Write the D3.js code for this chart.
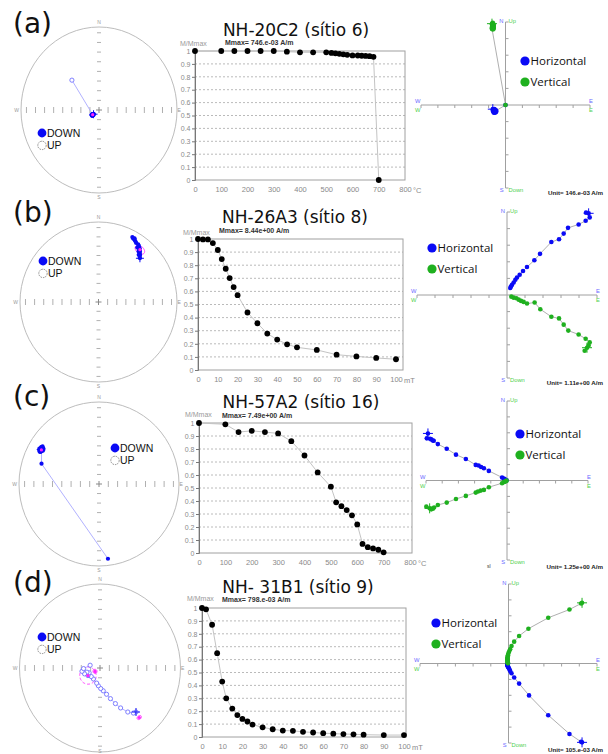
<!DOCTYPE html>
<html>
<head>
<meta charset="utf-8">
<script src="https://cdn.jsdelivr.net/npm/d3@7"></script>
<style>
body{margin:0;background:#fff}
svg{display:block}
</style>
</head>
<body>
<svg width="608" height="754"></svg>
<script>
// ---- text ----
const rowLabels = ['(a)', '(b)', '(c)', '(d)'];
const titles = ['NH-20C2 (sítio 6)', 'NH-26A3 (sítio 8)', 'NH-57A2 (sítio 16)', 'NH- 31B1 (sítio 9)'];
const mmaxTexts = ['Mmax= 746.e-03 A/m', 'Mmax= 8.44e+00 A/m', 'Mmax= 7.49e+00 A/m', 'Mmax= 798.e-03 A/m'];
const unitTexts = ['Unit= 146.e-03 A/m', 'Unit= 1.11e+00 A/m', 'Unit= 1.25e+00 A/m', 'Unit= 105.e-03 A/m'];

// ---- ticks ----
const tempTicks = [0, 100, 200, 300, 400, 500, 600, 700, 800];
const afTicks = [0, 10, 20, 30, 40, 50, 60, 70, 80, 90, 100];
const yTicks = [0, 0.1, 0.2, 0.3, 0.4, 0.5, 0.6, 0.7, 0.8, 0.9, 1];
const zijTicks = [-1, -0.8, -0.6, -0.4, -0.2, 0.2, 0.4, 0.6, 0.8, 1];

// ---- demagnetization curves (M/Mmax) ----
const stepsA = [0, 100, 150, 200, 250, 300, 350, 400, 450, 500, 520, 535, 550, 565, 580, 600, 620, 635, 650, 665, 680, 700];
const magA = [1, 1, 1, 1, 1, 1, 0.995, 0.99, 0.99, 0.99, 0.985, 0.982, 0.978, 0.974, 0.97, 0.966, 0.965, 0.963, 0.962, 0.96, 0.955, 0];
const stepsB = [0, 2.5, 5, 7.5, 10, 12, 14, 16, 18, 20, 25, 30, 35, 40, 45, 50, 60, 70, 80, 90, 100];
const magB = [1, 0.997, 0.997, 0.969, 0.916, 0.847, 0.773, 0.702, 0.633, 0.571, 0.439, 0.357, 0.278, 0.232, 0.196, 0.173, 0.153, 0.117, 0.104, 0.092, 0.082];
const stepsC = [0, 100, 150, 200, 250, 300, 350, 400, 450, 500, 520, 540, 560, 580, 600, 620, 640, 660, 680, 700];
const magC = [1, 0.99, 0.93, 0.94, 0.93, 0.92, 0.86, 0.75, 0.62, 0.51, 0.39, 0.36, 0.33, 0.29, 0.22, 0.07, 0.045, 0.035, 0.025, 0.005];
const stepsD = [0, 2, 5, 7.5, 10, 12, 15, 17.5, 20, 22.5, 25, 30, 35, 40, 45, 50, 55, 60, 65, 70, 75, 80, 90, 100];
const magD = [1, 0.99, 0.87, 0.65, 0.43, 0.30, 0.22, 0.17, 0.14, 0.12, 0.096, 0.075, 0.06, 0.05, 0.048, 0.04, 0.035, 0.03, 0.026, 0.023, 0.021, 0.018, 0.015, 0.015];

// ---- stereonet directions [dec, inc] (inc < 0 = UP) ----
const dirsA = [[234, 83], [236, 82], [232, 81], [238, 82], [230, 82.5], [235, 81], [240, 82], [233, 83], [237, 81.5], [231, 81], [236, 83], [234, 82], [239, 81], [232, 82], [235, 83], [238, 81], [233, 82], [236, 81.5], [234, 82.5], [237, 82], [235, 82], [316, -48.6]];
const dirsB = [[44, 25], [43, 24], [41, 23], [42, 22], [41, 21], [39, 20], [40, 19], [39, 18], [38, 17], [36, 17], [38, 16], [37, 15], [36, 14], [35, 13], [33, 13], [32, 12], [31, 11], [30, 10], [29, 10], [28, 9], [30, 9]];
const dirsC = [[300, 17], [301, 16], [299, 18], [302, 17], [300, 19], [298, 18], [301, 20], [303, 17], [300, 15], [302, 19], [299, 16], [301, 18], [300, 20], [298, 17], [302, 16], [301, 19], [300, 17], [299, 19], [289, 25], [173, 9]];
const dirsD = [[139.5, -31.7], [142.3, -32.7], [146.6, -37.3], [151.7, -45.1], [155.7, -51.6], [160.4, -58.2], [165.4, -63.6], [171.6, -67.6], [178, -70.1], [185.6, -72.7], [193, -75], [212, -77.5], [227, -77.9], [239, -75.8], [247, -78.1], [253, -76.2], [250, -73.4], [260, -71.5], [268, -73.4], [285, -79.7]];
// mean directions [dec, inc, a95]
const meansA = [[235, 82, 2]];
const meansB = [[38.9, 17.1, 4.5]];
const meansC = [[300, 18, 1.5]];
const meansD = [[239, -75.8, 8.3], [140.4, -24.5, 2], [237, -84, 2]];

// ---- Zijderveld: horizontal [E, N], vertical [E, Up] ----
const horA = [[-0.15, -0.05], [-0.14, -0.06], [-0.15, -0.07], [-0.13, -0.06], [-0.14, -0.08], [-0.13, -0.07], [-0.12, -0.08], [-0.13, -0.09], [-0.14, -0.07], [-0.12, -0.07], [-0.13, -0.08], [-0.12, -0.09], [-0.11, -0.08], [-0.12, -0.06], [-0.13, -0.05], [-0.12, -0.07], [-0.11, -0.07], [-0.12, -0.08], [-0.13, -0.09], [-0.14, -0.09], [-0.13, -0.08], [0, 0]];
const verA = [[-0.16, 0.98], [-0.15, 0.99], [-0.16, 0.97], [-0.15, 0.96], [-0.14, 0.97], [-0.15, 0.95], [-0.14, 0.94], [-0.15, 0.93], [-0.16, 0.94], [-0.15, 0.95], [-0.14, 0.96], [-0.15, 0.94], [-0.16, 0.93], [-0.15, 0.92], [-0.14, 0.93], [-0.15, 0.94], [-0.16, 0.92], [-0.15, 0.93], [-0.14, 0.92], [-0.15, 0.91], [-0.16, 0.92], [0, 0]];
const horB = [[0.907, 0.984], [0.878, 0.992], [0.919, 0.935], [0.874, 0.894], [0.796, 0.85], [0.678, 0.809], [0.63, 0.74], [0.578, 0.671], [0.493, 0.638], [0.367, 0.496], [0.304, 0.419], [0.222, 0.337], [0.178, 0.289], [0.141, 0.244], [0.111, 0.211], [0.093, 0.183], [0.074, 0.15], [0.056, 0.122], [0.044, 0.102], [0.036, 0.085]];
const verB = [[0.889, -0.635], [0.863, -0.671], [0.907, -0.607], [0.919, -0.571], [0.874, -0.528], [0.796, -0.476], [0.681, -0.429], [0.63, -0.357], [0.578, -0.282], [0.493, -0.262], [0.37, -0.171], [0.307, -0.091], [0.222, -0.103], [0.185, -0.083], [0.156, -0.071], [0.13, -0.056], [0.104, -0.04], [0.074, -0.032], [0.048, -0.02]];
const horC = [[-0.976, 0.592], [-0.99, 0.53], [-0.935, 0.517], [-0.95, 0.525], [-0.915, 0.504], [-0.905, 0.5], [-0.854, 0.458], [-0.744, 0.4], [-0.63, 0.325], [-0.508, 0.271], [-0.386, 0.196], [-0.35, 0.188], [-0.32, 0.17], [-0.285, 0.154], [-0.224, 0.121], [-0.061, 0.038], [-0.041, 0.025], [-0.03, 0.018], [-0.02, 0.008], [-0.005, 0.002]];
const verC = [[-0.955, -0.35], [-0.996, -0.329], [-0.935, -0.363], [-0.94, -0.355], [-0.915, -0.354], [-0.9, -0.34], [-0.854, -0.308], [-0.744, -0.278], [-0.63, -0.232], [-0.508, -0.194], [-0.386, -0.152], [-0.358, -0.139], [-0.325, -0.127], [-0.285, -0.118], [-0.224, -0.084], [-0.061, -0.034], [-0.04, -0.02], [-0.028, -0.017], [-0.015, -0.008], [-0.005, -0.002]];
const horD = [[0.831, -0.992], [0.82, -0.985], [0.689, -0.886], [0.449, -0.65], [0.232, -0.401], [0.12, -0.253], [0.064, -0.177], [0.034, -0.122], [0.019, -0.095], [0.011, -0.075], [0.004, -0.06], [-0.002, -0.048], [-0.006, -0.04], [-0.009, -0.032], [-0.011, -0.026], [-0.012, -0.021], [-0.012, -0.017], [-0.011, -0.013], [-0.011, -0.01], [-0.01, -0.008], [-0.009, -0.006], [-0.008, -0.004], [-0.007, -0.003], [-0.007, -0.002]];
const verD = [[0.831, 0.763], [0.82, 0.755], [0.689, 0.679], [0.449, 0.575], [0.225, 0.438], [0.12, 0.346], [0.064, 0.275], [0.034, 0.221], [0.019, 0.179], [0.007, 0.15], [-0.002, 0.125], [-0.006, 0.105], [-0.009, 0.09], [-0.011, 0.075], [-0.012, 0.065], [-0.012, 0.055], [-0.012, 0.045], [-0.011, 0.038], [-0.011, 0.03], [-0.01, 0.024], [-0.009, 0.018], [-0.008, 0.012], [-0.007, 0.007], [-0.007, 0.004]];

const rows = [
  {steps: stepsA, mag: magA, xTicks: tempTicks, xUnit: '°C', dirs: dirsA, means: meansA, hor: horA, ver: verA},
  {steps: stepsB, mag: magB, xTicks: afTicks, xUnit: 'mT', dirs: dirsB, means: meansB, hor: horB, ver: verB},
  {steps: stepsC, mag: magC, xTicks: tempTicks, xUnit: '°C', dirs: dirsC, means: meansC, hor: horC, ver: verC},
  {steps: stepsD, mag: magD, xTicks: afTicks, xUnit: 'mT', dirs: dirsD, means: meansD, hor: horD, ver: verD}
];

// where each panel sits on the page
const layout = [
  {ly: 33, st: {cx: 99, cy: 110, rx: 78, ry: 83, leg: [42, 133]},
   dm: {tx: 296, ty: 36, x: [195, 405], xr: 405, y: [180, 51], mx: 225, my: 45, lx: 180, lly: 46},
   zj: {hx: [421, 590], vy: [22, 188], leg: [525, 61], uy: 195}},
  {ly: 222, st: {cx: 98.5, cy: 302, rx: 78.5, ry: 80, leg: [43, 261]},
   dm: {tx: 295, ty: 223, x: [198, 396], xr: 403, y: [370, 239], mx: 219, my: 233, lx: 183, lly: 235},
   zj: {hx: [417, 597], vy: [212, 378], leg: [432, 248], uy: 385}},
  {ly: 406, st: {cx: 99, cy: 484, rx: 80, ry: 82, leg: [115, 448]},
   dm: {tx: 301, ty: 408, x: [199, 410], xr: 412, y: [553, 423], mx: 222, my: 418, lx: 185, lly: 417},
   zj: {hx: [426, 588], vy: [401, 560], leg: [520, 434], uy: 569}},
  {ly: 592, st: {cx: 100, cy: 668, rx: 80.5, ry: 84, leg: [42, 637]},
   dm: {tx: 298, ty: 593, x: [202, 404], xr: 406, y: [737, 608], mx: 222, my: 602, lx: 187, lly: 601},
   zj: {hx: [420, 597], vy: [584, 743], leg: [436, 623], uy: 752}}
];

const BLUE = '#0a0af5';
const GREEN = '#1fb01f';
const MAG = '#ff22ff';
const AX = '#a0a0a0';
const SANS = 'Liberation Sans, Arial, sans-serif';

const svg = d3.select('svg');

function cross(g, x, y, s, color) {
  g.append('path').attr('d', `M${x - s},${y}H${x + s}M${x},${y - s}V${y + s}`)
    .attr('stroke', color).attr('stroke-width', 1);
}

function drawStereo(g, s, dirs, means) {
  const proj = d3.geoAzimuthalEqualArea().rotate([0, -90]).scale(s.rx / Math.SQRT2).translate([0, 0]);
  const k = s.ry / s.rx;
  const P = c => { const p = proj(c); return [s.cx + p[0], s.cy + p[1] * k]; };
  const toLL = d => [180 - d[0], Math.abs(d[1])];

  g.append('ellipse').attr('cx', s.cx).attr('cy', s.cy).attr('rx', s.rx).attr('ry', s.ry)
    .attr('fill', 'none').attr('stroke', '#bdbdbd').attr('stroke-width', 1);

  const f = d3.range(1, 9).map(i => i / 8.6);
  f.forEach(t => {
    [-1, 1].forEach(sg => {
      const x = s.cx + sg * t * s.rx, y = s.cy + sg * t * s.ry;
      g.append('line').attr('x1', x).attr('x2', x).attr('y1', s.cy - 3).attr('y2', s.cy + 3).attr('stroke', '#b0b0b0');
      g.append('line').attr('x1', s.cx - 2).attr('x2', s.cx + 2).attr('y1', y).attr('y2', y).attr('stroke', '#b0b0b0');
    });
  });
  cross(g, s.cx, s.cy, 3, '#888');

  const lab = (t, x, y, a) => g.append('text').text(t).attr('x', x).attr('y', y).attr('text-anchor', a)
    .attr('font-family', SANS).attr('font-size', 5).attr('fill', '#999');
  lab('N', s.cx, s.cy - s.ry - 3, 'middle');
  lab('S', s.cx, Math.min(s.cy + s.ry + 6, 753), 'middle');
  lab('W', s.cx - s.rx - 2, s.cy + 2, 'end');
  lab('E', s.cx + s.rx + 0.5, s.cy + 2, 'start');

  const pts = dirs.map(d => P(toLL(d)));
  g.append('path').attr('d', d3.line()(pts)).attr('fill', 'none').attr('stroke', '#a8a8ff').attr('stroke-width', 0.9);

  means.forEach(m => {
    const ring = d3.geoCircle().center(toLL(m)).radius(m[2])().coordinates[0];
    g.append('path').attr('d', d3.line()(ring.map(P)) + 'Z').attr('fill', 'none')
      .attr('stroke', MAG).attr('stroke-width', 0.9).attr('stroke-dasharray', m[2] > 5 ? '3,2' : null);
  });

  dirs.forEach((d, i) => {
    const p = pts[i];
    if (d[1] >= 0) {
      g.append('circle').attr('cx', p[0]).attr('cy', p[1]).attr('r', 2.1).attr('fill', BLUE);
    } else {
      g.append('circle').attr('cx', p[0]).attr('cy', p[1]).attr('r', 2.1).attr('fill', 'white')
        .attr('stroke', '#7070ff').attr('stroke-width', 0.9);
    }
  });
  cross(g, pts[0][0], pts[0][1], 4, BLUE);
  means.forEach(m => {
    const p = P(toLL(m));
    g.append('circle').attr('cx', p[0]).attr('cy', p[1]).attr('r', 1.6).attr('fill', MAG);
  });

  // legend
  const [lx, ly] = s.leg;
  g.append('circle').attr('cx', lx).attr('cy', ly).attr('r', 4.4).attr('fill', BLUE);
  g.append('circle').attr('cx', lx).attr('cy', ly + 12.4).attr('r', 4.2).attr('fill', 'white')
    .attr('stroke', '#888').attr('stroke-dasharray', '1.5,1');
  g.append('text').text('DOWN').attr('x', lx + 5).attr('y', ly + 4).attr('font-family', SANS)
    .attr('font-size', 10.5).attr('fill', '#111');
  g.append('text').text('UP').attr('x', lx + 5).attr('y', ly + 16.4).attr('font-family', SANS)
    .attr('font-size', 10.5).attr('fill', '#111');
}

function drawDemag(g, L, r, i) {
  const xMax = r.xTicks[r.xTicks.length - 1];
  const x = d3.scaleLinear().domain([0, xMax]).range(L.x);
  const y = d3.scaleLinear().domain([0, 1]).range(L.y);

  g.append('text').text(titles[i]).attr('x', L.tx).attr('y', L.ty).attr('text-anchor', 'middle')
    .attr('font-family', 'DejaVu Sans, sans-serif').attr('font-size', 17).attr('fill', '#111');

  g.selectAll('line.grid').data(yTicks.slice(1, -1)).join('line').attr('class', 'grid')
    .attr('x1', L.x[0]).attr('x2', L.xr).attr('y1', d => y(d)).attr('y2', d => y(d))
    .attr('stroke', '#a8a8a8').attr('stroke-width', 0.8).attr('stroke-dasharray', '2,2');
  g.append('rect').attr('x', L.x[0]).attr('y', y(1)).attr('width', L.xr - L.x[0]).attr('height', y(0) - y(1))
    .attr('fill', 'none').attr('stroke', '#a0a0a0');

  const ya = g.append('g').attr('transform', `translate(${L.x[0]},0)`)
    .call(d3.axisLeft(y).tickValues(yTicks).tickSize(3).tickPadding(1.5)
      .tickFormat(d => (d === 0 || d === 1) ? String(d) : d.toFixed(1)));
  ya.select('.domain').attr('stroke', '#777');
  ya.selectAll('.tick line').attr('stroke', '#777');
  ya.selectAll('text').attr('fill', '#8a8a8a').attr('font-size', 7).attr('font-family', SANS);

  const xa = g.append('g').attr('transform', `translate(0,${L.y[0]})`)
    .call(d3.axisBottom(x).tickValues(r.xTicks).tickSize(0).tickPadding(7));
  xa.select('.domain').remove();
  xa.selectAll('text').attr('fill', '#8a8a8a').attr('font-size', 7.5).attr('font-family', SANS);
  g.append('text').text(r.xUnit).attr('x', x(xMax) + 8).attr('y', L.y[0] + 12.5)
    .attr('font-family', SANS).attr('font-size', 7.5).attr('fill', '#8a8a8a');

  g.append('text').text('M/Mmax').attr('x', L.lx).attr('y', L.lly)
    .attr('font-family', SANS).attr('font-size', 7).attr('fill', '#9a9a9a');
  g.append('text').text(mmaxTexts[i]).attr('x', L.mx).attr('y', L.my)
    .attr('font-family', SANS).attr('font-size', 7).attr('font-weight', 'bold').attr('fill', '#333');

  const pts = r.steps.map((s, j) => [x(s), y(r.mag[j])]);
  g.append('path').attr('d', d3.line()(pts)).attr('fill', 'none').attr('stroke', '#c4c4c4').attr('stroke-width', 1);
  g.selectAll('circle.dm').data(pts).join('circle').attr('class', 'dm')
    .attr('cx', d => d[0]).attr('cy', d => d[1]).attr('r', 2.9).attr('fill', '#000');
}

function drawZij(g, L, r, i) {
  const x = d3.scaleLinear().domain([-1, 1]).range(L.hx);
  const y = d3.scaleLinear().domain([-1, 1]).range([L.vy[1], L.vy[0]]);
  const ox = x(0), oy = y(0);

  g.append('line').attr('x1', L.hx[0]).attr('x2', L.hx[1]).attr('y1', oy).attr('y2', oy).attr('stroke', AX);
  g.append('line').attr('x1', ox).attr('x2', ox).attr('y1', L.vy[0]).attr('y2', L.vy[1]).attr('stroke', AX);
  zijTicks.forEach(t => {
    g.append('line').attr('x1', x(t)).attr('x2', x(t)).attr('y1', oy).attr('y2', oy + 3).attr('stroke', AX);
    g.append('line').attr('x1', ox).attr('x2', ox + 3).attr('y1', y(t)).attr('y2', y(t)).attr('stroke', AX);
  });

  const lab = (t, px, py, a, c) => g.append('text').text(t).attr('x', px).attr('y', py).attr('text-anchor', a)
    .attr('font-family', SANS).attr('font-size', 5.8).attr('fill', c);
  const LB = '#6a6aff', LG = '#4fd14f';
  lab('N', ox - 2, L.vy[0] + 0.5, 'end', LB);
  lab('Up', ox + 3, L.vy[0] + 0.5, 'start', LG);
  lab('S', ox - 2, L.vy[1] + 4, 'end', LB);
  lab('Down', ox + 3, L.vy[1] + 4, 'start', LG);
  lab('W', L.hx[0] - 0.5, oy - 2, 'end', LB);
  lab('W', L.hx[0] - 0.5, oy + 7, 'end', LG);
  lab('E', L.hx[1] - 1, oy - 2, 'start', LB);
  lab('E', L.hx[1] - 1, oy + 7, 'start', LG);

  const hp = r.hor.map(d => [x(d[0]), y(d[1])]);
  const vp = r.ver.map(d => [x(d[0]), y(d[1])]);
  [hp, vp].forEach(pp => g.append('path').attr('d', d3.line()(pp)).attr('fill', 'none')
    .attr('stroke', '#a6a6a6').attr('stroke-width', 0.9));
  [[hp, BLUE], [vp, GREEN]].forEach(([pp, c]) => {
    pp.forEach(p => g.append('circle').attr('cx', p[0]).attr('cy', p[1]).attr('r', 2.3).attr('fill', c));
    cross(g, pp[0][0], pp[0][1], 5, c);
  });

  const [gx, gy] = L.leg;
  [['Horizontal', BLUE, 0], ['Vertical', GREEN, 21]].forEach(([t, c, dy]) => {
    g.append('circle').attr('cx', gx).attr('cy', gy + dy).attr('r', 4.6).attr('fill', c);
    g.append('text').text(t).attr('x', gx + 5.5).attr('y', gy + dy + 4.2)
      .attr('font-family', 'Open Sans, sans-serif').attr('font-size', 11.5).attr('fill', '#111');
  });

  g.append('text').text(unitTexts[i]).attr('x', 603).attr('y', L.uy).attr('text-anchor', 'end')
    .attr('font-family', SANS).attr('font-size', 6.2).attr('font-weight', 'bold').attr('fill', '#222');
}

rows.forEach((r, i) => {
  const L = layout[i];
  const g = svg.append('g');
  g.append('text').text(rowLabels[i]).attr('x', 13).attr('y', L.ly)
    .attr('font-family', 'DejaVu Sans, sans-serif').attr('font-size', 28).attr('fill', '#111');
  drawStereo(g.append('g'), L.st, r.dirs, r.means);
  drawDemag(g.append('g'), L.dm, r, i);
  drawZij(g.append('g'), L.zj, r, i);
});

// stray mark under panel (c)
svg.append('text').text('sl').attr('x', 487).attr('y', 568)
  .attr('font-family', SANS).attr('font-size', 5).attr('fill', '#333');
</script>
</body>
</html>
